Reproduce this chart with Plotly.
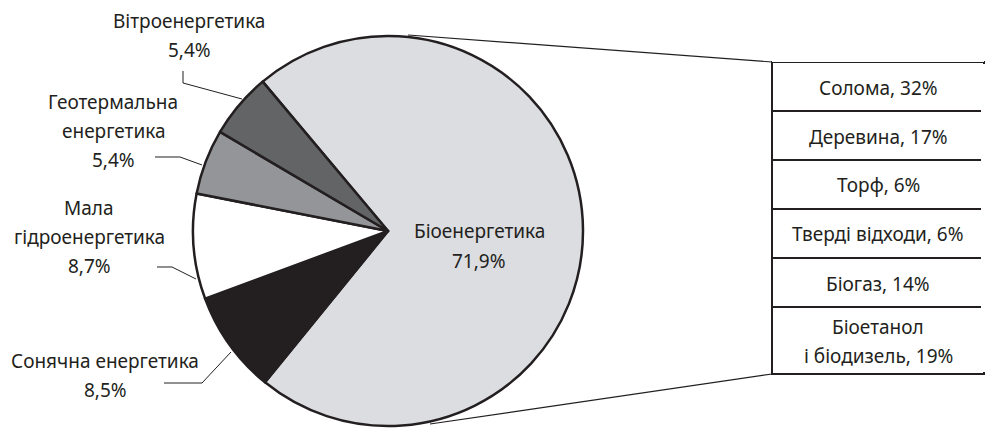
import plotly.graph_objects as go

W, H = 985, 428

# ---- data ----
sources = ["Біоенергетика", "Сонячна енергетика", "Мала гідроенергетика",
           "Геотермальна енергетика", "Вітроенергетика"]
shares = [71.9, 8.5, 8.7, 5.4, 5.4]
bio_types = ["Солома", "Деревина", "Торф", "Тверді відходи", "Біогаз",
             "Біоетанол і біодизель"]
bio_shares = [32, 17, 6, 6, 14, 19]

# ---- style ----
slice_colors = ["#dcdde0", "#231f20", "#ffffff", "#939598", "#636466"]
ink = "#231f20"
FONT = "Noto Sans"
FS = 19
LINE_GAP = 29
NBSP = "\u00a0"


def px(x):
    return x / W


def py(y):
    return 1 - y / H


def fmt(v):
    return f"{v:g}".replace(".", ",") + "%"


fig = go.Figure()

# pie centred at (388, 231) px, radius 195 px
cx, cy, r = 388, 231, 195
fig.add_trace(go.Pie(
    labels=sources, values=shares, sort=False, direction="clockwise",
    rotation=-40, textinfo="none", hoverinfo="label+percent",
    marker=dict(colors=slice_colors, line=dict(color=ink, width=2.5)),
    domain=dict(x=[px(cx - r), px(cx + r)], y=[py(cy + r), py(cy - r)]),
    showlegend=False,
))

# table frame (zoom box) for the bioenergy breakdown; one row per type
cell_lines = [f"{n}, {v}%".replace(" і ", "\n і ").split("\n") for n, v in zip(bio_types, bio_shares)]
frame_cells = ["<br>".join([NBSP] * len(ls)) for ls in cell_lines]
TOP = 62
CELL_H = 49
HEADER_H = 1
fig.add_trace(go.Table(
    domain=dict(x=[px(772), 1], y=[0, py(TOP - HEADER_H)]),
    header=dict(values=[""], height=HEADER_H, fill=dict(color="white"),
                line=dict(color="white", width=0), font=dict(size=1)),
    cells=dict(values=[frame_cells], height=CELL_H, align="center",
               fill=dict(color="white"), line=dict(color=ink, width=2),
               font=dict(family=FONT, size=FS, color=ink)),
    hoverinfo="skip",
))

anns = []
# row texts centred in the table rows
row_h = [CELL_H if len(ls) == 1 else 67 for ls in cell_lines]
y0 = TOP
for ls, h in zip(cell_lines, row_h):
    mid = y0 + h / 2
    for i, t in enumerate(ls):
        yy = mid + (i - (len(ls) - 1) / 2) * LINE_GAP
        anns.append(dict(text=t.strip(), x=px(878), y=py(yy + 1), xref="paper", yref="paper",
                         xanchor="center", yanchor="middle", showarrow=False,
                         font=dict(family=FONT, size=FS, color=ink)))
    y0 += h
BOTTOM = y0

# pie labels: (name lines, centre x, first-line centre y, line gap)
label_pos = [
    (["Біоенергетика"], 479, 231, 30),
    (["Сонячна енергетика"], 105, 361, LINE_GAP),
    (["Мала", "гідроенергетика"], 89, 208, LINE_GAP),
    (["Геотермальна", "енергетика"], 113, 102, LINE_GAP),
    (["Вітроенергетика"], 189, 21, LINE_GAP),
]
for (lines, x, y, gap), v in zip(label_pos, shares):
    for i, t in enumerate(lines + [fmt(v)]):
        anns.append(dict(text=t, x=px(x), y=py(y + i * gap), xref="paper", yref="paper",
                         xanchor="center", yanchor="middle", showarrow=False,
                         font=dict(family=FONT, size=FS, color=ink)))

# leader lines and zoom lines
leaders = [
    [(183, 71), (183, 83), (242, 99)],
    [(155, 157), (180, 157), (202, 165)],
    [(157, 267), (172, 267), (196, 279)],
    [(164, 383), (202, 383), (231, 352)],
]
shapes = []
for pts in leaders:
    path = "M " + " L ".join(f"{px(a):.5f},{py(b):.5f}" for a, b in pts)
    shapes.append(dict(type="path", path=path, xref="paper", yref="paper",
                       line=dict(color=ink, width=1)))
for (a, b), (c, d) in [((408, 35), (772, TOP)), ((430, 424), (772, BOTTOM))]:
    shapes.append(dict(type="line", x0=px(a), y0=py(b), x1=px(c), y1=py(d),
                       xref="paper", yref="paper", line=dict(color=ink, width=1.2)))
# box is open on the right (runs off the page edge)
shapes.append(dict(type="rect", x0=px(W - 4), x1=1.01, y0=py(BOTTOM - 2), y1=py(TOP + 2),
                   xref="paper", yref="paper", fillcolor="white",
                   line=dict(width=0), layer="above"))

fig.update_layout(
    width=W, height=H, margin=dict(l=0, r=0, t=0, b=0),
    paper_bgcolor="white", plot_bgcolor="white",
    annotations=anns, shapes=shapes,
)

fig.write_html("out.html")
